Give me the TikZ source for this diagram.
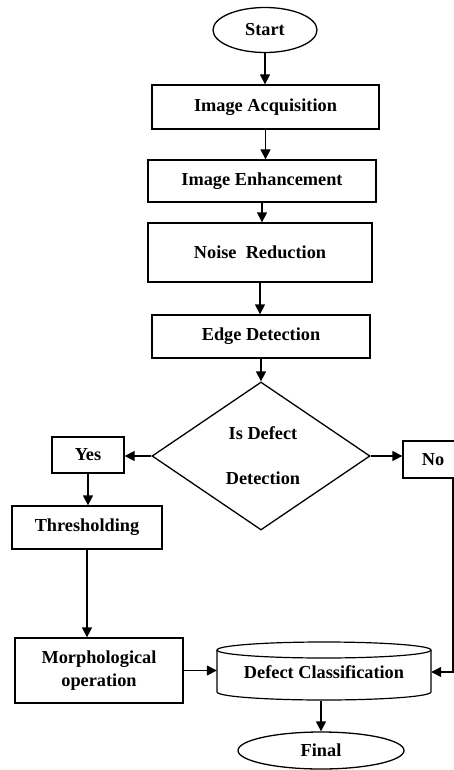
\documentclass[tikz,border=0pt]{standalone}
\usepackage{fontspec}
\setmainfont{Liberation Serif}
\usetikzlibrary{arrows.meta,shapes.geometric}
\begin{document}
\begin{tikzpicture}[x=1pt,y=-1pt,
  txt/.style={font=\fontsize{18.3}{21.5}\selectfont\bfseries,align=center},
  box/.style={txt,draw,line width=1.3pt,rectangle,inner sep=0pt},
  term/.style={txt,draw,line width=1.3pt,ellipse,inner sep=0pt},
  arr/.style={line width=1.3pt,-{Triangle[length=10pt,width=10pt]}},
]
\clip (0,0) rectangle (454,770);
\fill[white] (0,0) rectangle (454,770);
\node[term, minimum width=104pt, minimum height=45pt] (start) at (265,30) {Start};
\node[box, minimum width=227pt, minimum height=44pt] (ia) at (265.5,107) {Image Acquisition};
\node[box, minimum width=228pt, minimum height=42pt] (ie) at (262,181) {Image Enhancement};
\node[box, minimum width=224pt, minimum height=59pt] (nr) at (260,252.5) {Noise\ \ Reduction};
\node[box, minimum width=218pt, minimum height=43pt] (ed) at (261,336.5) {Edge Detection};
\node[draw, line width=1.3pt, diamond, inner sep=0pt, minimum width=218pt, minimum height=148pt] (dia) at (261,456) {};
\node[txt] (dtext) at (263,455.5) {Is Defect\\[23pt]Detection};
\node[box, minimum width=72pt, minimum height=36pt] (yes) at (88,455) {Yes};
\node[box, minimum width=60pt, minimum height=37pt] (no) at (433,459.5) {No};
\node[box, minimum width=150pt, minimum height=43pt] (thr) at (87,527.5) {Thresholding};
\node[box, minimum width=168pt, minimum height=65pt] (morph) at (99,670.5) {Morphological\\[2pt]operation};
% cylinder
\draw[line width=1.2pt] (324,650) ellipse[x radius=107pt, y radius=8pt];
\draw[line width=1.2pt] (217,650) -- (217,692) arc[start angle=180, end angle=360, x radius=107pt, y radius=8pt] -- (431,650);
\node[txt, inner sep=0pt, minimum width=214pt, minimum height=58pt] (dc) at (324,672) {Defect Classification};
\node[term, minimum width=166pt, minimum height=37pt] (final) at (321,750.5) {Final};
\coordinate (nodrop) at (453,478);
% connectors
\draw[arr] (start.south) -- (start.south |- ia.north);
\draw[arr] (ia.south) -- (ia.south |- ie.north);
\draw[arr] (ie.south) -- (ie.south |- nr.north);
\draw[arr] (nr.south) -- (nr.south |- ed.north);
\draw[arr] (ed.south) -- (dia.north);
\draw[arr] (dia.west) -- (dia.west -| yes.east);
\draw[arr] (dia.east) -- (dia.east -| no.west);
\draw[arr] (yes.south) -- (yes.south |- thr.north);
\draw[arr] (thr.south) -- (thr.south |- morph.north);
\draw[arr] (morph.east) -- (morph.east -| dc.west);
\draw[arr] (nodrop) |- (dc.east);
\draw[arr] (final.north |- dc.south) -- (final.north);
\end{tikzpicture}
\end{document}
